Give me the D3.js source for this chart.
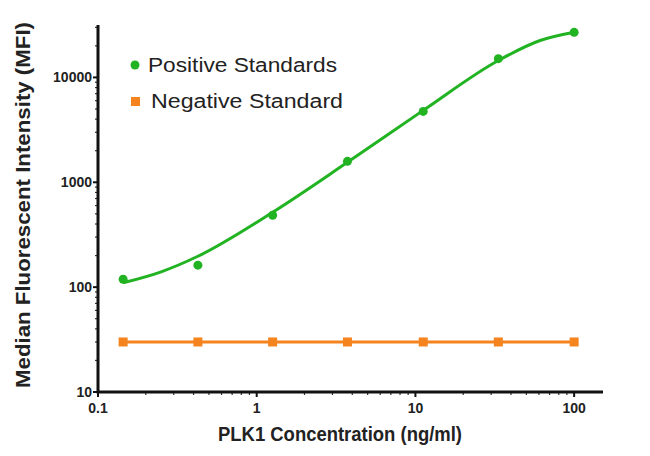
<!DOCTYPE html>
<html><head><meta charset="utf-8">
<script src="https://cdn.jsdelivr.net/npm/d3@7"></script>
<style>body{margin:0;background:#fff}svg{display:block}</style>
</head><body>
<svg id="c" width="650" height="456"></svg>
<script>
const concentrations = [0.144, 0.426, 1.26, 3.73, 11.2, 33.3, 100];
const positiveMFI = [119, 162, 485, 1585, 4740, 15100, 26900];
const negativeMFI = [30, 30, 30, 30, 30, 30, 30];
const fitX = [0.144, 0.25, 0.426, 1.26, 3.73, 11.2, 33.3, 61, 100];
const fitY = [110, 140, 197, 518, 1550, 4850, 14500, 22500, 27000];
const xTicks = [0.1, 1, 10, 100];
const yTicks = [10, 100, 1000, 10000];
const seriesNames = ["Positive Standards", "Negative Standard"];

const green = "#22b322", orange = "#f5841f";
const svg = d3.select("#c");
const x = d3.scaleLog().domain([0.1, 152]).range([98, 603]);
const y = d3.scaleLog().domain([10, 31623]).range([392, 25]);

const font = "'Liberation Sans', Arial, sans-serif";

// minor ticks
const xMinor = [], yMinor = [];
for (let d = 0.1; d < 150; d *= 10) for (let k = 2; k <= 9; k++) if (d*k <= 152) xMinor.push(d*k);
for (let d = 10; d < 31623; d *= 10) for (let k = 2; k <= 9; k++) if (d*k <= 31623) yMinor.push(d*k);

const gx = svg.append("g").attr("transform", "translate(0,392)");
gx.selectAll("line.mi").data(xMinor).join("line").attr("x1", d=>x(d)).attr("x2", d=>x(d))
  .attr("y1", 0).attr("y2", 3).attr("stroke", "#333").attr("stroke-width", 1.2);
gx.selectAll("line.ma").data(xTicks).join("line").attr("x1", d=>x(d)).attr("x2", d=>x(d))
  .attr("y1", 0).attr("y2", 5).attr("stroke", "#111").attr("stroke-width", 2);
gx.selectAll("text").data(xTicks).join("text").attr("x", d=>x(d)).attr("y", 21)
  .attr("text-anchor", "middle").attr("font-family", font).attr("font-weight", "bold")
  .attr("font-size", 14).attr("fill", "#222").text(d=>d);

const gy = svg.append("g").attr("transform", "translate(98,0)");
gy.selectAll("line.mi").data(yMinor).join("line").attr("y1", d=>y(d)).attr("y2", d=>y(d))
  .attr("x1", 0).attr("x2", -3).attr("stroke", "#333").attr("stroke-width", 1.2);
gy.selectAll("line.ma").data(yTicks).join("line").attr("y1", d=>y(d)).attr("y2", d=>y(d))
  .attr("x1", 0).attr("x2", -5).attr("stroke", "#111").attr("stroke-width", 2);
gy.selectAll("text").data(yTicks).join("text").attr("x", -6).attr("y", d=>y(d)+5)
  .attr("text-anchor", "end").attr("font-family", font).attr("font-weight", "bold")
  .attr("font-size", 14).attr("fill", "#222").text(d=>d);

// axis lines
svg.append("path").attr("d", `M98,25V392H603`).attr("fill", "none").attr("stroke", "#111").attr("stroke-width", 3);

// negative series
const negData = concentrations.map((c,i)=>[c, negativeMFI[i]]);
svg.append("path").datum(negData).attr("fill", "none").attr("stroke", orange).attr("stroke-width", 3)
  .attr("d", d3.line().x(d=>x(d[0])).y(d=>y(d[1])));
svg.selectAll("rect.neg").data(negData).join("rect").attr("class", "neg")
  .attr("x", d=>x(d[0])-4.5).attr("y", d=>y(d[1])-4.5).attr("width", 9).attr("height", 9).attr("fill", orange);

// positive fit curve
const fitData = fitX.map((c,i)=>[c, fitY[i]]);
svg.append("path").datum(fitData).attr("fill", "none").attr("stroke", green).attr("stroke-width", 3)
  .attr("d", d3.line().curve(d3.curveMonotoneX).x(d=>x(d[0])).y(d=>y(d[1])));
const posData = concentrations.map((c,i)=>[c, positiveMFI[i]]);
svg.selectAll("circle.pos").data(posData).join("circle").attr("class", "pos")
  .attr("cx", d=>x(d[0])).attr("cy", d=>y(d[1])).attr("r", 4.5).attr("fill", green);

// legend
const lg = svg.append("g");
lg.append("circle").attr("cx", 135).attr("cy", 65).attr("r", 4.5).attr("fill", green);
lg.append("rect").attr("x", 131).attr("y", 97).attr("width", 9).attr("height", 9).attr("fill", orange);
const legLen = [189, 192];
lg.selectAll("text").data(seriesNames).join("text").attr("x", (d,i)=>148+i*3).attr("y", (d,i)=>72+i*36)
  .attr("font-family", font).attr("font-size", 20).attr("fill", "#222")
  .attr("textLength", (d,i)=>legLen[i]).attr("lengthAdjust", "spacingAndGlyphs").text(d=>d);

// axis titles
svg.append("text").attr("x", 340).attr("y", 441).attr("text-anchor", "middle")
  .attr("font-family", font).attr("font-weight", "bold").attr("font-size", 20).attr("fill", "#222")
  .attr("textLength", 244).attr("lengthAdjust", "spacingAndGlyphs")
  .text("PLK1 Concentration (ng/ml)");
svg.append("text").attr("transform", "translate(30,205) rotate(-90)").attr("text-anchor", "middle")
  .attr("font-family", font).attr("font-weight", "bold").attr("font-size", 21).attr("fill", "#222")
  .attr("textLength", 366).attr("lengthAdjust", "spacingAndGlyphs")
  .text("Median Fluorescent Intensity (MFI)");
</script>
</body></html>
